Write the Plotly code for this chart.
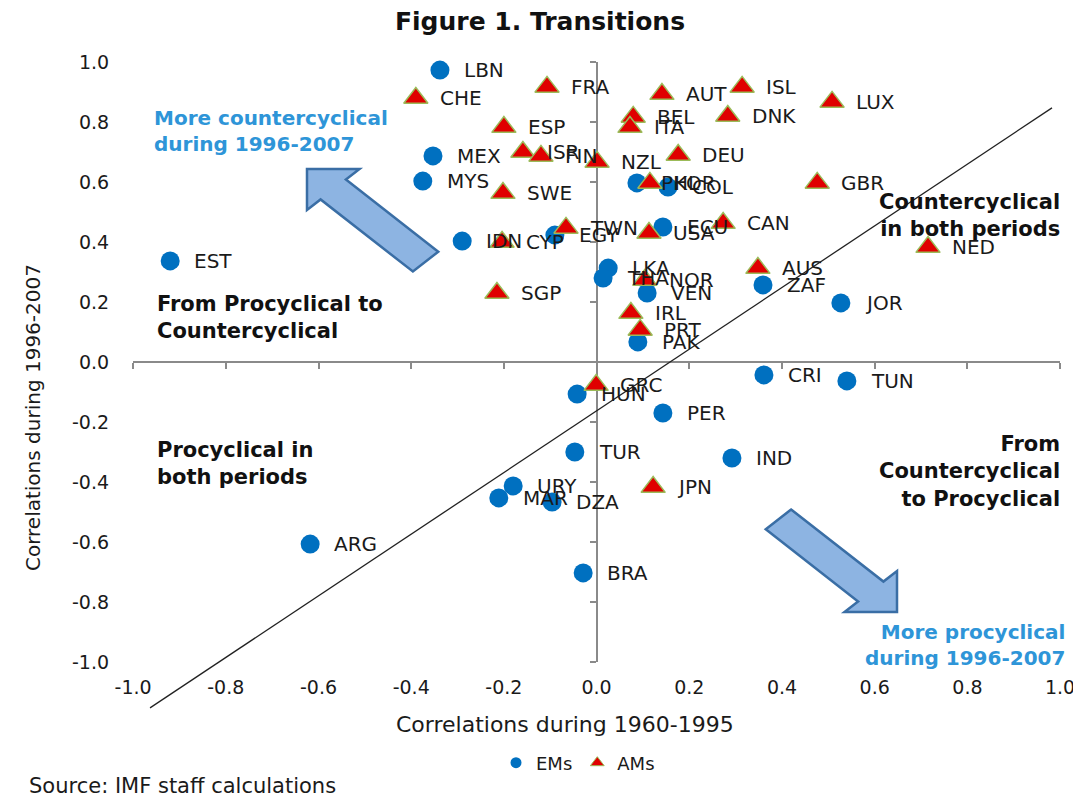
import math
import plotly.graph_objects as go

# ---------------- data ----------------
em_names = ["LBN", "MEX", "MYS", "PHL", "COL", "ECU", "EGY", "IDN", "EST", "LKA", "THA", "VEN", "ZAF",
            "JOR", "PAK", "CRI", "TUN", "HUN", "PER", "TUR", "IND", "URY", "MAR", "DZA", "ARG", "BRA"]
em_x = [-0.338, -0.353, -0.375, 0.087, 0.154, 0.143, -0.090, -0.290, -0.920, 0.025, 0.014, 0.109, 0.359,
        0.527, 0.089, 0.361, 0.540, -0.042, 0.143, -0.047, 0.292, -0.180, -0.211, -0.096, -0.618, -0.029]
em_y = [0.973, 0.687, 0.603, 0.597, 0.583, 0.450, 0.423, 0.403, 0.337, 0.313, 0.280, 0.230, 0.257,
        0.197, 0.067, -0.043, -0.063, -0.107, -0.170, -0.300, -0.320, -0.413, -0.453, -0.467, -0.607, -0.703]

am_names = ["CHE", "FRA", "AUT", "ISL", "LUX", "BEL", "ITA", "DNK", "ESP", "ISR", "FIN", "NZL", "DEU", "KOR",
            "GBR", "SWE", "TWN", "CYP", "USA", "CAN", "NED", "AUS", "NOR", "SGP", "IRL", "PRT", "GRC", "JPN"]
am_x = [-0.390, -0.107, 0.141, 0.314, 0.508, 0.079, 0.072, 0.283, -0.200, -0.159, -0.120, 0.001, 0.176, 0.115,
        0.476, -0.202, -0.066, -0.204, 0.113, 0.273, 0.715, 0.348, 0.104, -0.215, 0.074, 0.094, -0.001, 0.122]
am_y = [0.880, 0.917, 0.893, 0.917, 0.867, 0.817, 0.783, 0.820, 0.783, 0.700, 0.687, 0.667, 0.690, 0.597,
        0.597, 0.563, 0.447, 0.400, 0.430, 0.463, 0.383, 0.313, 0.273, 0.230, 0.163, 0.107, -0.077, -0.417]

diag_x = [-0.9635, 0.9825]
diag_y = [-1.153, 0.847]

tick_vals = [-1.0, -0.8, -0.6, -0.4, -0.2, 0.0, 0.2, 0.4, 0.6, 0.8, 1.0]
tick_text = ["-1.0", "-0.8", "-0.6", "-0.4", "-0.2", "0.0", "0.2", "0.4", "0.6", "0.8", "1.0"]

# ---------------- layout geometry (in screen pixels; page body has an 8px margin) ----------------
SCREEN_W, SCREEN_H = 1081, 800
OFF = 8
W, H = SCREEN_W - OFF, SCREEN_H - OFF
L, R, T, B = 128, 1070, 55, 712          # plot area in screen pixels
X0PX, XSC = 596.6, 463.5                  # screen pixel of x=0, pixels per unit
Y0PX, YSC = 362.0, 300.0                  # screen pixel of y=0, pixels per unit


def fx(px):
    return (px - L) / (R - L)


def fy(py):
    return (B - py) / (B - T)


x_range = [(L - X0PX) / XSC, (R - X0PX) / XSC]
y_range = [(Y0PX - B) / YSC, (Y0PX - T) / YSC]

FONT = "DejaVu Sans"
TXT = "#1a1a1a"
AXC = "#8a8a8a"
BLUE_TXT = "#2E95D8"

fig = go.Figure()

# crossing axes subplot (drawn first, below data)
fig.add_trace(go.Scatter(x=[None], y=[None], xaxis="x", yaxis="y", showlegend=False, hoverinfo="skip"))

# diagonal line
fig.add_trace(go.Scatter(x=diag_x, y=diag_y, mode="lines", xaxis="x2", yaxis="y2",
                         line=dict(color="#222222", width=1.3), showlegend=False, hoverinfo="skip"))

# markers
fig.add_trace(go.Scatter(x=em_x, y=em_y, mode="markers", xaxis="x2", yaxis="y2", name="EMs",
                         text=em_names, showlegend=False, cliponaxis=False,
                         marker=dict(symbol="circle", size=19, color="#0070C0")))
fig.add_trace(go.Scatter(x=am_x, y=am_y, mode="markers", xaxis="x2", yaxis="y2", name="AMs",
                         text=am_names, showlegend=False, cliponaxis=False,
                         marker=dict(symbol="triangle-up", size=21, color="#E00000",
                                     line=dict(color="#9BBB59", width=1.5))))

# legend-only entries
fig.add_trace(go.Scatter(x=[None], y=[None], mode="markers", xaxis="x2", yaxis="y2", name="EMs",
                         marker=dict(symbol="circle", size=11, color="#0070C0")))
fig.add_trace(go.Scatter(x=[None], y=[None], mode="markers", xaxis="x2", yaxis="y2", name="AMs",
                         marker=dict(symbol="triangle-up", size=12, color="#E00000",
                                     line=dict(color="#9BBB59", width=1))))

annotations = []
label_font = dict(family=FONT, size=20, color=TXT)
for names, xs, ys in ((em_names, em_x, em_y), (am_names, am_x, am_y)):
    for n, xv, yv in zip(names, xs, ys):
        annotations.append(dict(x=xv, y=yv, xref="x2", yref="y2", text=n, showarrow=False,
                                xanchor="left", yanchor="middle", xshift=22, font=label_font))

bold_font = dict(family=FONT, size=21, color="#111111")
blue_font = dict(family=FONT, size=20, color=BLUE_TXT)


def note(px, py, text, xanchor, align, font):
    annotations.append(dict(x=fx(px), y=fy(py), xref="paper", yref="paper", text=text, showarrow=False,
                            xanchor=xanchor, yanchor="middle", align=align, font=font))


note(155, 317, "<b>From Procyclical to<br>Countercyclical</b>", "left", "left", bold_font)
note(155, 463, "<b>Procyclical in<br>both periods</b>", "left", "left", bold_font)
note(1062, 215, "<b>Countercyclical<br>in both periods</b>", "right", "right", bold_font)
note(1062, 471, "<b>From<br>Countercyclical<br>to Procyclical</b>", "right", "right", bold_font)
note(152, 131, "<b>More countercyclical<br>during 1996-2007</b>", "left", "left", blue_font)
note(1067, 645, "<b>More procyclical<br>during 1996-2007</b>", "right", "right", blue_font)

# axis titles and source
annotations.append(dict(x=fx(565), y=fy(724), xref="paper", yref="paper", text="Correlations during 1960-1995",
                        showarrow=False, xanchor="center", yanchor="middle",
                        font=dict(family=FONT, size=22, color=TXT)))
annotations.append(dict(x=fx(33), y=fy(418), xref="paper", yref="paper", text="Correlations during 1996-2007",
                        showarrow=False, xanchor="center", yanchor="middle", textangle=-90,
                        font=dict(family=FONT, size=20, color=TXT)))
annotations.append(dict(x=fx(27), y=fy(786), xref="paper", yref="paper", text="Source: IMF staff calculations",
                        showarrow=False, xanchor="left", yanchor="middle",
                        font=dict(family=FONT, size=21, color=TXT)))


# block arrows (decoration), built at 45 degrees and stretched horizontally
def arrow_path(tip_px, tip_py, sgn, length=131, head_len=29, head_half=29, shaft_half=14, sx=1.28):
    ux, uy = sgn / math.sqrt(2), sgn / math.sqrt(2)      # direction towards tip
    nx, ny = -uy, ux
    loc = [(-length, shaft_half), (-head_len, shaft_half), (-head_len, head_half), (0, 0),
           (-head_len, -head_half), (-head_len, -shaft_half), (-length, -shaft_half)]
    pts = []
    for a, p in loc:
        dx = a * ux + p * nx
        dy = a * uy + p * ny
        pts.append((fx(tip_px + sx * dx), fy(tip_py + dy)))
    return "M " + " L ".join(f"{x:.5f},{y:.5f}" for x, y in pts) + " Z"


shapes = []
for tip_px, tip_py, sgn in ((307, 169, -1), (897, 612, 1)):
    shapes.append(dict(type="path", xref="paper", yref="paper", path=arrow_path(tip_px, tip_py, sgn),
                       fillcolor="#8DB4E2", line=dict(color="#3A6EA5", width=2.5), layer="above"))

fig.update_layout(
    width=W, height=H,
    margin=dict(l=L - OFF, r=SCREEN_W - R, t=T - OFF, b=SCREEN_H - B, autoexpand=False),
    paper_bgcolor="white", plot_bgcolor="rgba(0,0,0,0)",
    title=dict(text="<b>Figure 1. Transitions</b>", x=(540 - OFF) / W, xanchor="center",
               y=1 - (21 - OFF) / H, yanchor="middle",
               font=dict(family=FONT, size=25, color="#111111"), automargin=False),
    # visible crossing axes at zero
    xaxis=dict(domain=[fx(X0PX - XSC), fx(X0PX + XSC)], range=[-1, 1], anchor="free", position=fy(Y0PX),
               showline=True, linecolor=AXC, linewidth=2, ticks="outside", ticklen=6, tickwidth=2,
               tickcolor=AXC, tickvals=tick_vals, showticklabels=False, showgrid=False, zeroline=False,
               fixedrange=True, automargin=False),
    yaxis=dict(domain=[fy(Y0PX + YSC), fy(Y0PX - YSC)], range=[-1, 1], anchor="free", position=fx(X0PX),
               showline=True, linecolor=AXC, linewidth=2, ticks="outside", ticklen=6, tickwidth=2,
               tickcolor=AXC, tickvals=tick_vals, showticklabels=False, showgrid=False, zeroline=False,
               fixedrange=True, automargin=False),
    # data axes with tick labels at the outer edges
    xaxis2=dict(domain=[0, 1], range=x_range, anchor="free", position=fy(Y0PX + YSC),
                showline=False, showgrid=False, zeroline=False, ticks="", ticklabelstandoff=12,
                tickvals=tick_vals, ticktext=tick_text, tickfont=dict(family=FONT, size=19, color=TXT),
                fixedrange=True, automargin=False),
    yaxis2=dict(domain=[0, 1], range=y_range, anchor="free", position=fx(X0PX - XSC),
                showline=False, showgrid=False, zeroline=False, ticks="", ticklabelstandoff=24,
                tickvals=tick_vals, ticktext=tick_text, tickfont=dict(family=FONT, size=19, color=TXT),
                fixedrange=True, automargin=False),
    showlegend=True,
    legend=dict(orientation="h", x=(578 - OFF) / W, xanchor="center", y=1 - (763 - OFF) / H, yanchor="middle",
                xref="container", yref="container", font=dict(family=FONT, size=18, color=TXT),
                bgcolor="rgba(0,0,0,0)", itemwidth=30),
    annotations=annotations,
    shapes=shapes,
)

fig.write_html("out.html")
